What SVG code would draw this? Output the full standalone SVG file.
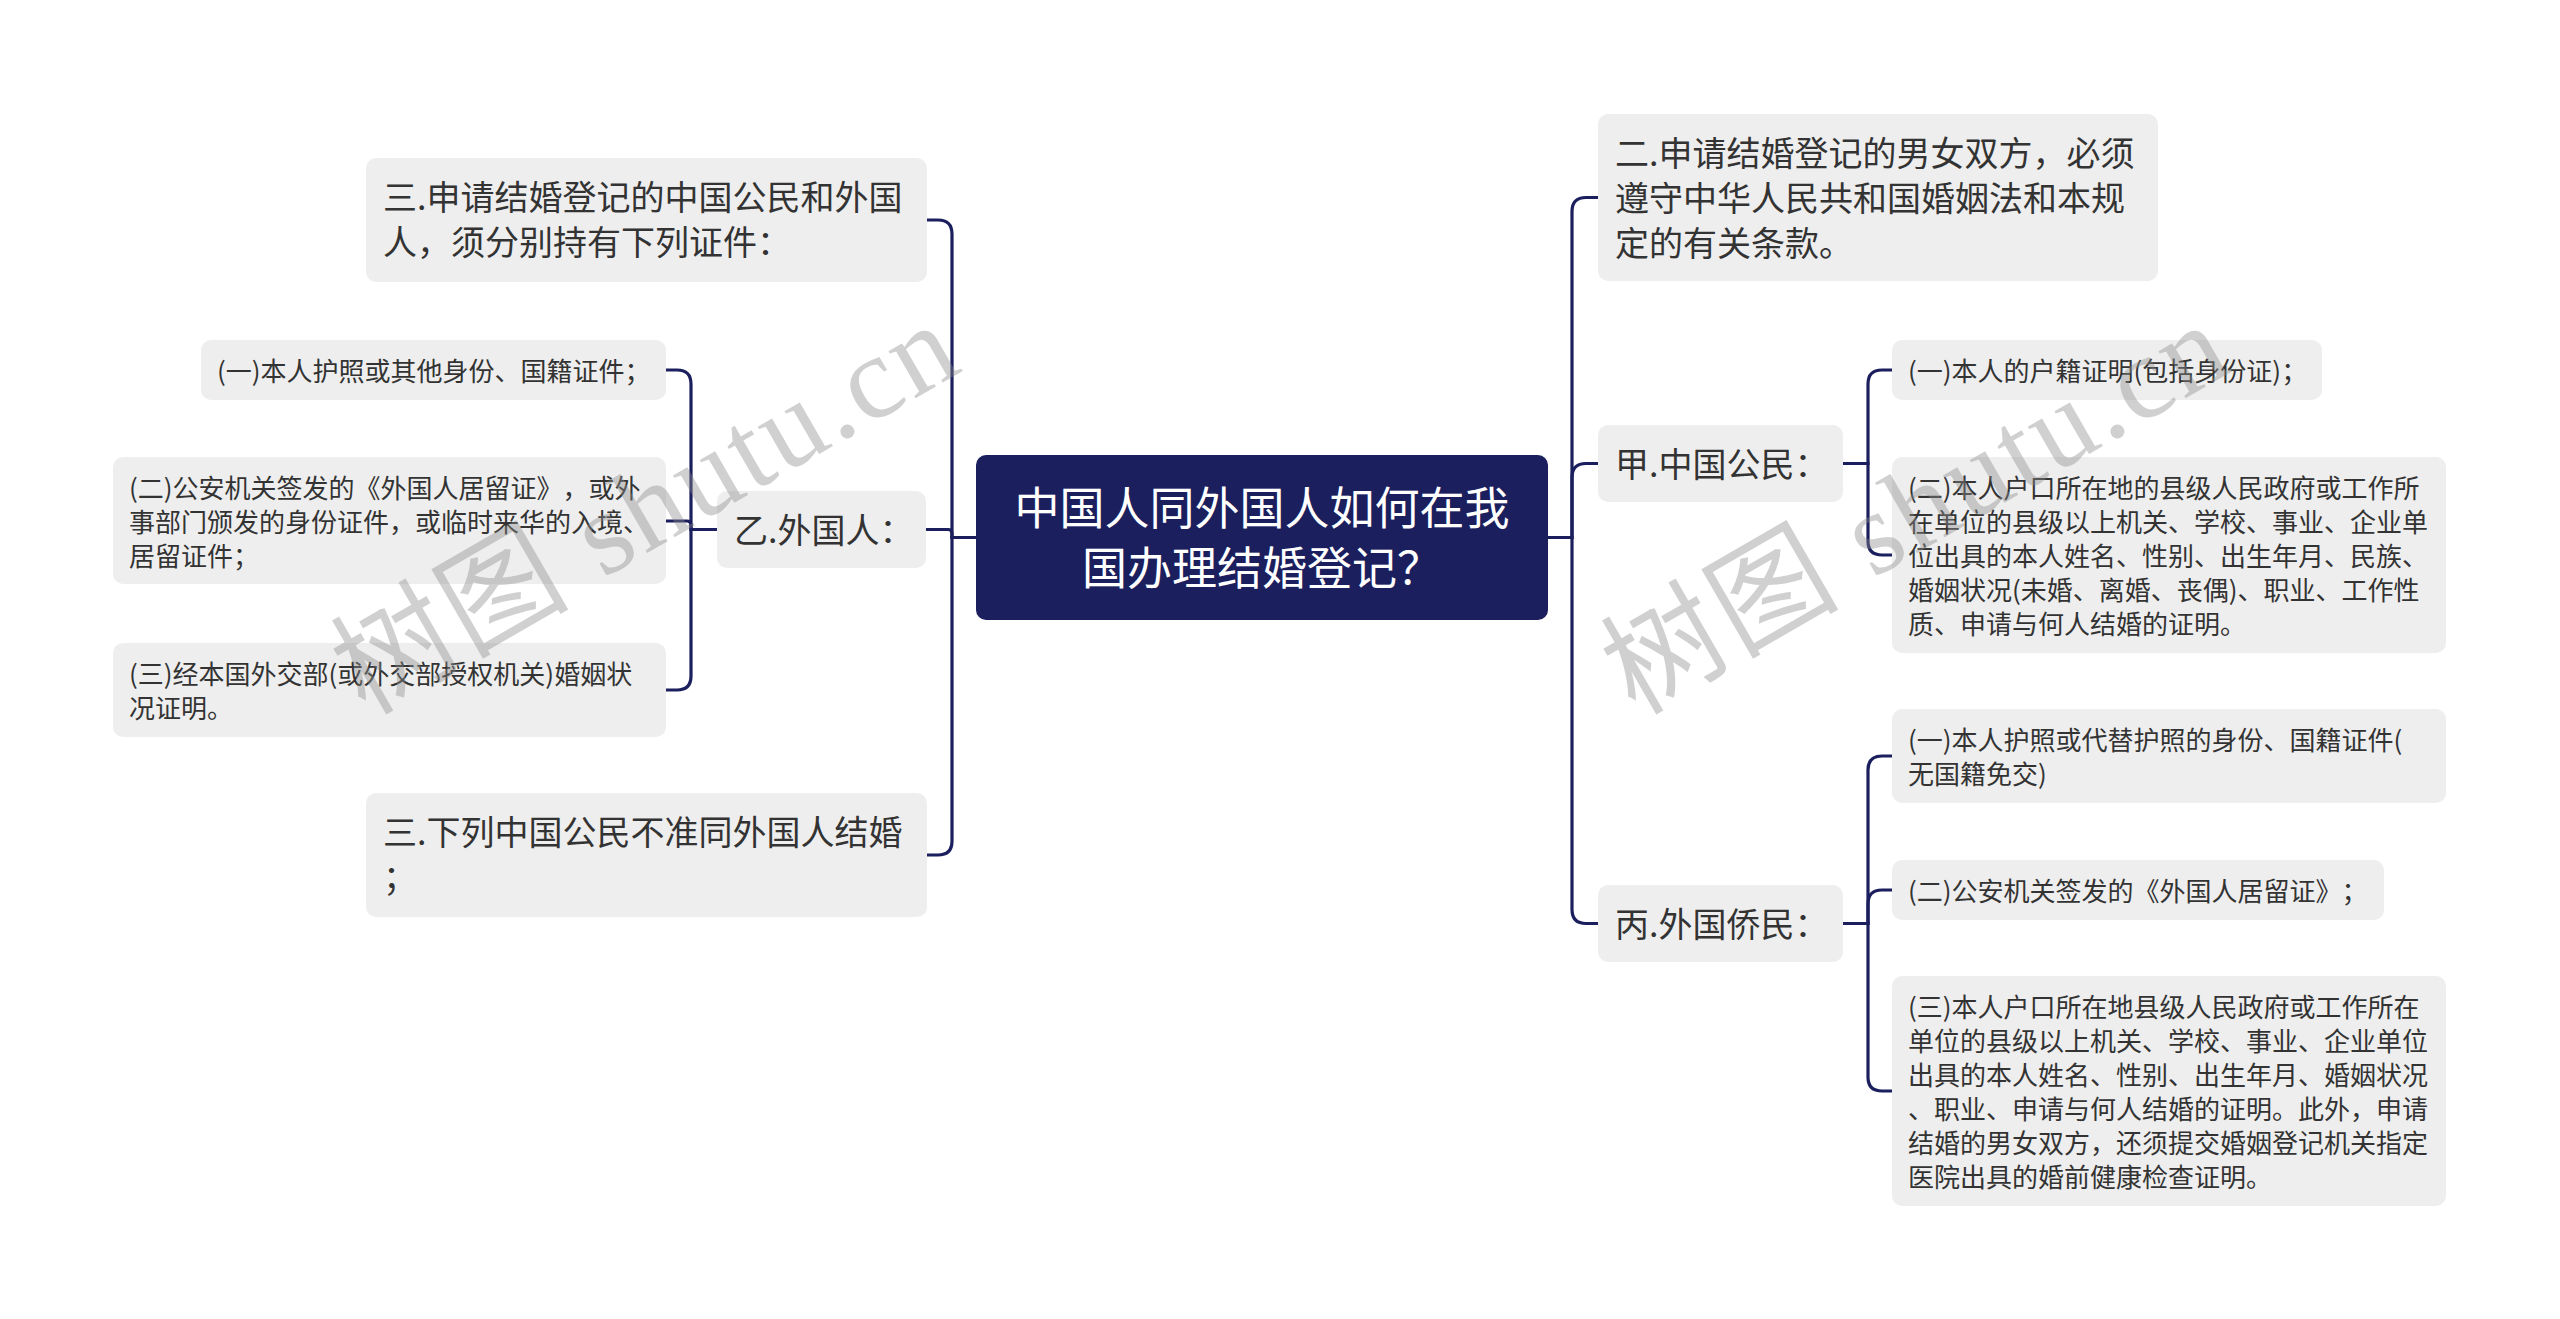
<svg xmlns="http://www.w3.org/2000/svg" width="2560" height="1319" viewBox="0 0 2560 1319">
<style>
.bg{fill:#ffffff}
.box{fill:#eeeeee}
.rootbox{fill:#1b1f5e}
.t{font-family:"Noto Sans CJK SC","Liberation Sans",sans-serif;fill:#333333;text-spacing-trim:space-all}
.t1{font-size:34px}
.t2{font-size:26px}
.tr{font-family:"Noto Sans CJK SC","Liberation Sans",sans-serif;font-size:45px;fill:#ffffff;text-anchor:middle;text-spacing-trim:space-all}
.conn path{fill:none;stroke:#1b1f5e;stroke-width:3.2}
.wm{font-family:"Liberation Serif","Noto Sans CJK SC",serif;font-size:118px;fill:#8c8c8c;opacity:0.4;letter-spacing:3px}
</style>
<rect class="bg" x="0" y="0" width="2560" height="1319"/>
<g id="connectors" class="conn">
<path d="M1548,537.5 H1572 V211.5 Q1572,197.5 1586,197.5 H1598"/>
<path d="M1548,537.5 H1572 V477.5 Q1572,463.5 1586,463.5 H1598"/>
<path d="M1548,537.5 H1572 V909.5 Q1572,923.5 1586,923.5 H1598"/>
<path d="M1843,463.5 H1868 V384 Q1868,370 1882,370 H1892"/>
<path d="M1843,463.5 H1868 V541 Q1868,555 1882,555 H1892"/>
<path d="M1843,923.5 H1868 V770 Q1868,756 1882,756 H1892"/>
<path d="M1843,923.5 H1868 V904 Q1868,890 1882,890 H1892"/>
<path d="M1843,923.5 H1868 V1077 Q1868,1091 1882,1091 H1892"/>
<path d="M976,537.5 H952 V234 Q952,220 938,220 H927"/>
<path d="M976,537.5 H952 V533.5 Q952,529.5 948,529.5 H926"/>
<path d="M976,537.5 H952 V841 Q952,855 938,855 H927"/>
<path d="M717,529.5 H691 V384 Q691,370 677,370 H666"/>
<path d="M717,529.5 H691 V525.2 Q691,521 686.8,521 H666"/>
<path d="M717,529.5 H691 V676 Q691,690 677,690 H666"/>
</g>
<g id="root">
<rect class="rootbox" x="976" y="455" width="572" height="165" rx="10"/>
<text class="tr" x="1262" y="525">中国人同外国人如何在我</text>
<text class="tr" x="1262" y="585">国办理结婚登记？</text>
</g>
<g id="node-l1">
<rect class="box" x="366" y="158" width="561" height="124" rx="10"/>
<text class="t t1" x="383" y="210">三.申请结婚登记的中国公民和外国</text>
<text class="t t1" x="383" y="255">人，须分别持有下列证件：</text>
</g>
<g id="node-yi">
<rect class="box" x="717" y="491" width="209" height="77" rx="10"/>
<text class="t t1" x="734" y="543">乙.外国人：</text>
</g>
<g id="node-l3">
<rect class="box" x="366" y="793" width="561" height="124" rx="10"/>
<text class="t t1" x="383" y="845">三.下列中国公民不准同外国人结婚</text>
<text class="t t1" x="383" y="890">；</text>
</g>
<g id="leaf-yi-1">
<rect class="box" x="201" y="340" width="465" height="60" rx="10"/>
<text class="t t2" x="217" y="381">(一)本人护照或其他身份、国籍证件；</text>
</g>
<g id="leaf-yi-2">
<rect class="box" x="113" y="457" width="553" height="127" rx="10"/>
<text class="t t2" x="129" y="498">(二)公安机关签发的《外国人居留证》，或外</text>
<text class="t t2" x="129" y="532">事部门颁发的身份证件，或临时来华的入境、</text>
<text class="t t2" x="129" y="566">居留证件；</text>
</g>
<g id="leaf-yi-3">
<rect class="box" x="113" y="643" width="553" height="94" rx="10"/>
<text class="t t2" x="129" y="684">(三)经本国外交部(或外交部授权机关)婚姻状</text>
<text class="t t2" x="129" y="718">况证明。</text>
</g>
<g id="node-r1">
<rect class="box" x="1598" y="114" width="560" height="167" rx="10"/>
<text class="t t1" x="1615" y="166">二.申请结婚登记的男女双方，必须</text>
<text class="t t1" x="1615" y="211">遵守中华人民共和国婚姻法和本规</text>
<text class="t t1" x="1615" y="256">定的有关条款。</text>
</g>
<g id="node-jia">
<rect class="box" x="1598" y="425" width="245" height="77" rx="10"/>
<text class="t t1" x="1615" y="477">甲.中国公民：</text>
</g>
<g id="leaf-jia-1">
<rect class="box" x="1892" y="340" width="430" height="60" rx="10"/>
<text class="t t2" x="1908" y="381">(一)本人的户籍证明(包括身份证)；</text>
</g>
<g id="leaf-jia-2">
<rect class="box" x="1892" y="457" width="554" height="196" rx="10"/>
<text class="t t2" x="1908" y="498">(二)本人户口所在地的县级人民政府或工作所</text>
<text class="t t2" x="1908" y="532">在单位的县级以上机关、学校、事业、企业单</text>
<text class="t t2" x="1908" y="566">位出具的本人姓名、性别、出生年月、民族、</text>
<text class="t t2" x="1908" y="600">婚姻状况(未婚、离婚、丧偶)、职业、工作性</text>
<text class="t t2" x="1908" y="634">质、申请与何人结婚的证明。</text>
</g>
<g id="node-bing">
<rect class="box" x="1598" y="885" width="245" height="77" rx="10"/>
<text class="t t1" x="1615" y="937">丙.外国侨民：</text>
</g>
<g id="leaf-bing-1">
<rect class="box" x="1892" y="709" width="554" height="94" rx="10"/>
<text class="t t2" x="1908" y="750">(一)本人护照或代替护照的身份、国籍证件(</text>
<text class="t t2" x="1908" y="784">无国籍免交)</text>
</g>
<g id="leaf-bing-2">
<rect class="box" x="1892" y="860" width="492" height="60" rx="10"/>
<text class="t t2" x="1908" y="901">(二)公安机关签发的《外国人居留证》；</text>
</g>
<g id="leaf-bing-3">
<rect class="box" x="1892" y="976" width="554" height="230" rx="10"/>
<text class="t t2" x="1908" y="1017">(三)本人户口所在地县级人民政府或工作所在</text>
<text class="t t2" x="1908" y="1051">单位的县级以上机关、学校、事业、企业单位</text>
<text class="t t2" x="1908" y="1085">出具的本人姓名、性别、出生年月、婚姻状况</text>
<text class="t t2" x="1908" y="1119">、职业、申请与何人结婚的证明。此外，申请</text>
<text class="t t2" x="1908" y="1153">结婚的男女双方，还须提交婚姻登记机关指定</text>
<text class="t t2" x="1908" y="1187">医院出具的婚前健康检查证明。</text>
</g>
<g id="watermark">
<text class="wm" x="365" y="716" transform="rotate(-30 365 716)">树图 shutu.cn</text>
<text class="wm" x="1635" y="716" transform="rotate(-30 1635 716)">树图 shutu.cn</text>
</g>
</svg>
